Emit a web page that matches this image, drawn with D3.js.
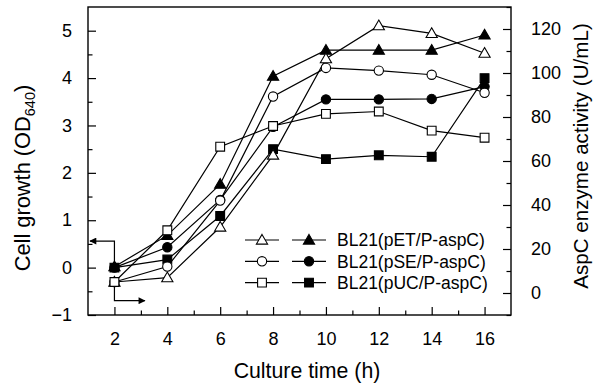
<!DOCTYPE html>
<html>
<head>
<meta charset="utf-8">
<script src="https://cdn.jsdelivr.net/npm/d3@7"></script>
<style>
  body { margin: 0; background: #fff; }
  svg { display: block; font-family: "Liberation Sans", Arial, sans-serif; }
</style>
</head>
<body>
<svg width="594" height="387"></svg>
<script>
const width = 594;
const height = 387;

// culture time (h)
const hours = [2, 4, 6, 8, 10, 12, 14, 16];

// cell growth, OD640 (left axis, filled markers)
const growthPET = [0.02, 0.68, 1.76, 4.04, 4.59, 4.59, 4.59, 4.91];
const growthPSE = [0.0, 0.43, 1.43, 2.97, 3.55, 3.55, 3.56, 3.82];
const growthPUC = [0.0, 0.17, 1.09, 2.5, 2.29, 2.37, 2.34, 4.0];

// AspC enzyme activity, U/mL (right axis, open markers)
const activityPET = [5, 7, 30, 62.7, 106.5, 121.5, 118, 109];
const activityPSE = [5, 12, 42, 89.3, 102.3, 101.1, 99.2, 91];
const activityPUC = [5, 28.5, 66.5, 75.9, 81.4, 82.5, 73.8, 70.6];

const strains = ["BL21(pET/P-aspC)", "BL21(pSE/P-aspC)", "BL21(pUC/P-aspC)"];
const shapes = ["triangle", "circle", "square"];

const xTicks = [2, 4, 6, 8, 10, 12, 14, 16];
const yLeftTicks = [-1, 0, 1, 2, 3, 4, 5];
const yRightTicks = [0, 20, 40, 60, 80, 100, 120];

// plot frame
const pL = 88, pR = 511, pT = 7, pB = 315;

const x = d3.scaleLinear().domain([1, 17]).range([pL, pR]);
const yL = d3.scaleLinear().domain([-1, 5.5]).range([pB, pT]);
const yR = d3.scaleLinear().domain([-10, 130]).range([pB, pT]);

const svg = d3.select("svg");

// marker path, centred on 0,0
function markerPath(shape) {
  if (shape === "triangle") return "M0,-5.6L5.6,4.1L-5.6,4.1Z";
  if (shape === "square") return "M-4.4,-4.4H4.4V4.4H-4.4Z";
  return d3.symbol().type(d3.symbolCircle).size(68)();
}

// ---- axes (ticks point inward) ----
const fmt = d3.format("d");
const bottomAxis = d3.axisBottom(x).tickValues(xTicks).tickFormat(fmt).tickSizeInner(-8).tickSizeOuter(0).tickPadding(17);
const bottomMinor = d3.axisBottom(x).tickValues(d3.range(3, 17, 2)).tickSize(-4.5).tickFormat("");
const leftAxis = d3.axisLeft(yL).tickValues(yLeftTicks).tickFormat(fmt).tickSizeInner(-8).tickSizeOuter(0).tickPadding(16);
const leftMinor = d3.axisLeft(yL).tickValues(d3.range(-0.5, 5.5, 1)).tickSize(-4.5).tickFormat("");
const rightAxis = d3.axisRight(yR).tickValues(yRightTicks).tickFormat(fmt).tickSizeInner(-8).tickSizeOuter(0).tickPadding(20);
const rightMinor = d3.axisRight(yR).tickValues(d3.range(-10, 131, 20)).tickSize(-4.5).tickFormat("");

function styleAxis(g) {
  g.select(".domain").remove();
  g.selectAll("line").attr("stroke", "#000").attr("stroke-width", 1.2);
  g.selectAll("text").attr("fill", "#000").attr("font-size", 18).attr("font-family", "Liberation Sans, Arial, sans-serif");
}

svg.append("g").attr("transform", `translate(0,${pB})`).call(bottomAxis).call(styleAxis);
svg.append("g").attr("transform", `translate(0,${pB})`).call(bottomMinor).call(styleAxis);
svg.append("g").attr("transform", `translate(${pL},0)`).call(leftAxis).call(styleAxis);
svg.append("g").attr("transform", `translate(${pL},0)`).call(leftMinor).call(styleAxis);
svg.append("g").attr("transform", `translate(${pR},0)`).call(rightAxis).call(styleAxis);
svg.append("g").attr("transform", `translate(${pR},0)`).call(rightMinor).call(styleAxis);

// frame
svg.append("rect")
  .attr("x", pL).attr("y", pT)
  .attr("width", pR - pL).attr("height", pB - pT)
  .attr("fill", "none").attr("stroke", "#000").attr("stroke-width", 1.4);

// ---- axis titles ----
svg.append("text")
  .attr("x", 307).attr("y", 378)
  .attr("text-anchor", "middle").attr("font-size", 21.3)
  .text("Culture time (h)");

const yTitle = svg.append("text")
  .attr("transform", "translate(30,178) rotate(-90)")
  .attr("text-anchor", "middle").attr("font-size", 21.8);
yTitle.append("tspan").text("Cell growth (OD");
yTitle.append("tspan").attr("font-size", 14.5).attr("dy", 5).text("640");
yTitle.append("tspan").attr("dy", -5).text(")");

svg.append("text")
  .attr("transform", "translate(588,156) rotate(-90)")
  .attr("text-anchor", "middle").attr("font-size", 20.6)
  .text("AspC enzyme activity (U/mL)");

// ---- series ----
const line = d3.line();

function drawSeries(values, yScale, shape, filled) {
  const pts = hours.map((h, i) => [x(h), yScale(values[i])]);
  svg.append("path")
    .attr("d", line(pts))
    .attr("fill", "none").attr("stroke", "#000").attr("stroke-width", 1.2);
  svg.append("g").selectAll("path")
    .data(pts)
    .enter().append("path")
      .attr("d", markerPath(shape))
      .attr("transform", d => `translate(${d[0]},${d[1]})`)
      .attr("fill", filled ? "#000" : "#fff")
      .attr("stroke", "#000").attr("stroke-width", 1.1);
}

// filled first, open markers sit on top
drawSeries(growthPET, yL, "triangle", true);
drawSeries(growthPSE, yL, "circle", true);
drawSeries(growthPUC, yL, "square", true);
drawSeries(activityPET, yR, "triangle", false);
drawSeries(activityPSE, yR, "circle", false);
drawSeries(activityPUC, yR, "square", false);

// ---- arrows showing which axis each group belongs to ----
svg.append("defs").append("marker")
  .attr("id", "head")
  .attr("viewBox", "0 0 10 10").attr("refX", 9).attr("refY", 5)
  .attr("markerWidth", 9).attr("markerHeight", 7)
  .attr("markerUnits", "userSpaceOnUse")
  .attr("orient", "auto")
  .append("path").attr("d", "M0,0L10,5L0,10Z").attr("fill", "#000");

svg.append("path")
  .attr("d", d3.line()([[x(2), yL(0) - 5], [x(2), yL(0.56)], [x(1) + 2, yL(0.56)]]))
  .attr("fill", "none").attr("stroke", "#000").attr("stroke-width", 1.2)
  .attr("marker-end", "url(#head)");

svg.append("path")
  .attr("d", d3.line()([[x(2), yR(5) + 4], [x(2), yR(-3.5)], [x(3.15), yR(-3.5)]]))
  .attr("fill", "none").attr("stroke", "#000").attr("stroke-width", 1.2)
  .attr("marker-end", "url(#head)");

// ---- legend ----
const legend = svg.append("g").attr("transform", "translate(245,240)");
strains.forEach((name, i) => {
  const row = legend.append("g").attr("transform", `translate(0,${i * 21.3})`);
  [0, 47].forEach((dx, j) => {
    row.append("line")
      .attr("x1", dx).attr("x2", dx + 34).attr("y1", 0).attr("y2", 0)
      .attr("stroke", "#000").attr("stroke-width", 1.2);
    row.append("path")
      .attr("d", markerPath(shapes[i]))
      .attr("transform", `translate(${dx + 17},0)`)
      .attr("fill", j === 0 ? "#fff" : "#000")
      .attr("stroke", "#000").attr("stroke-width", 1.1);
  });
  row.append("text")
    .attr("x", 92).attr("y", 6.3)
    .attr("font-size", 17.5)
    .text(name);
});
</script>
</body>
</html>
